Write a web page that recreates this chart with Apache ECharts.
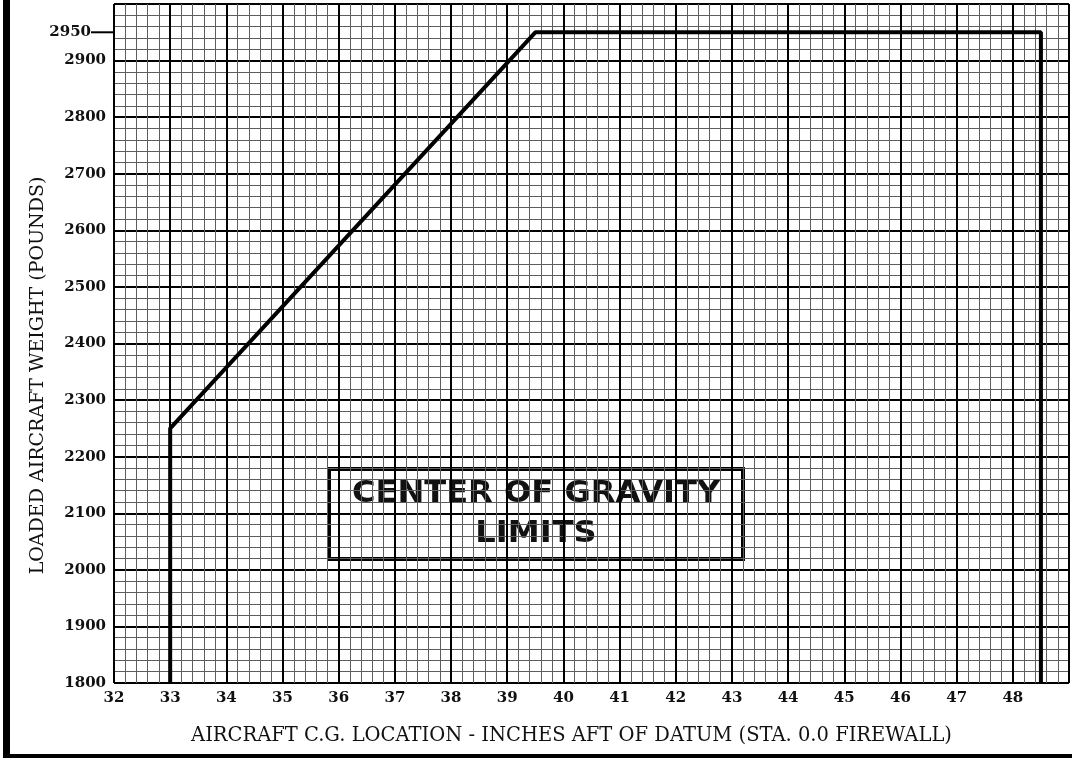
<!DOCTYPE html>
<html>
<head>
<meta charset="utf-8">
<style>
  html, body { margin: 0; padding: 0; background: #fff; }
  #cg { width: 1072px; height: 761px; }
</style>
<script src="https://cdn.jsdelivr.net/npm/echarts@6/dist/echarts.min.js"></script>
</head>
<body>
<div id="cg"></div>
<script>
// C.G. envelope corners: location (inches aft of datum) and weight (pounds)
var cgInches = [33, 33, 39.5, 48.5, 48.5];
var weightLbs = [1800, 2250, 2950, 2950, 1800];
var markedWeight = 2950;
var boxText = ["CENTER OF GRAVITY", "LIMITS"];

var envelope = cgInches.map(function (x, i) { return [x, weightLbs[i]]; });

var serif = "'DejaVu Serif', 'Liberation Serif', serif";
var chart = echarts.init(document.getElementById("cg"));

var option = {
    backgroundColor: "#fff",
    animation: false,
    grid: { left: 114, right: 1, top: 4, bottom: 78 },
    xAxis: {
        type: "value",
        min: 32,
        max: 49,
        interval: 1,
        name: "AIRCRAFT C.G. LOCATION - INCHES AFT OF DATUM (STA. 0.0 FIREWALL)",
        nameLocation: "middle",
        nameGap: 43,
        nameTextStyle: { fontFamily: serif, fontSize: 19.5, color: "#111", padding: [0, 40, 0, 0] },
        axisLine: { show: false },
        axisTick: { show: false },
        axisLabel: {
            margin: 8,
            fontFamily: serif,
            fontWeight: "bold",
            fontSize: 15,
            color: "#111",
            formatter: function (v) { return v === 49 ? "" : String(v); }
        },
        splitLine: { show: true, lineStyle: { color: "#000", width: 2 } },
        minorTick: { show: false, splitNumber: 5 },
        minorSplitLine: { show: true, lineStyle: { color: "#5e5e5e", width: 1 } }
    },
    yAxis: [
        {
            type: "value",
            min: 1800,
            max: 3000,
            interval: 100,
            name: "LOADED AIRCRAFT WEIGHT (POUNDS)",
            nameLocation: "middle",
            nameGap: 66,
            nameTextStyle: { fontFamily: serif, fontSize: 19, color: "#111", padding: [0, 64, 0, 0] },
            axisLine: { show: false },
            axisTick: { show: false },
            axisLabel: {
                margin: 8,
                fontFamily: serif,
                fontWeight: "bold",
                fontSize: 15,
                color: "#111",
                formatter: function (v) { return v === 3000 ? "" : String(v); }
            },
            splitLine: { show: true, lineStyle: { color: "#000", width: 2 } },
            minorTick: { show: false, splitNumber: 5 },
            minorSplitLine: { show: true, lineStyle: { color: "#5e5e5e", width: 1 } }
        },
        {
            // only carries the extra 2950 label with its lead line
            type: "value",
            position: "left",
            min: 1800,
            max: 3000,
            interval: 50,
            axisLine: { show: false },
            axisTick: { show: false },
            splitLine: { show: false },
            axisLabel: {
                margin: 1,
                fontFamily: serif,
                fontWeight: "bold",
                fontSize: 15,
                color: "#111",
                formatter: function (v) {
                    return v === markedWeight ? String(v) + "{d|}" : "";
                },
                rich: {
                    d: { width: 22, height: 2, backgroundColor: "#000" }
                }
            }
        }
    ],
    series: [
        {
            type: "line",
            data: envelope,
            symbol: "none",
            lineStyle: { color: "#000", width: 4 },
            z: 5
        }
    ],
    graphic: [
        { type: "rect", left: 3, top: 0, shape: { width: 7, height: 757 }, style: { fill: "#000" } },
        { type: "rect", left: 3, top: 754, shape: { width: 1069, height: 4 }, style: { fill: "#000" } },
        {
            type: "group",
            left: 327,
            top: 467,
            z: 10,
            children: [
                {
                    type: "rect",
                    shape: { x: 0, y: 0, width: 414, height: 90 },
                    style: { fill: "#fff", stroke: "#000", lineWidth: 4 }
                },
                {
                    type: "text",
                    x: 207,
                    y: 45,
                    scaleX: 1.07,
                    style: {
                        text: boxText.join("\n"),
                        fontFamily: "'DejaVu Sans', 'Liberation Sans', sans-serif",
                        fontWeight: "bold",
                        fontSize: 30,
                        lineHeight: 40,
                        fill: "#111",
                        align: "center",
                        verticalAlign: "middle"
                    }
                }
            ]
        }
    ]
};

chart.setOption(option);
</script>
</body>
</html>
